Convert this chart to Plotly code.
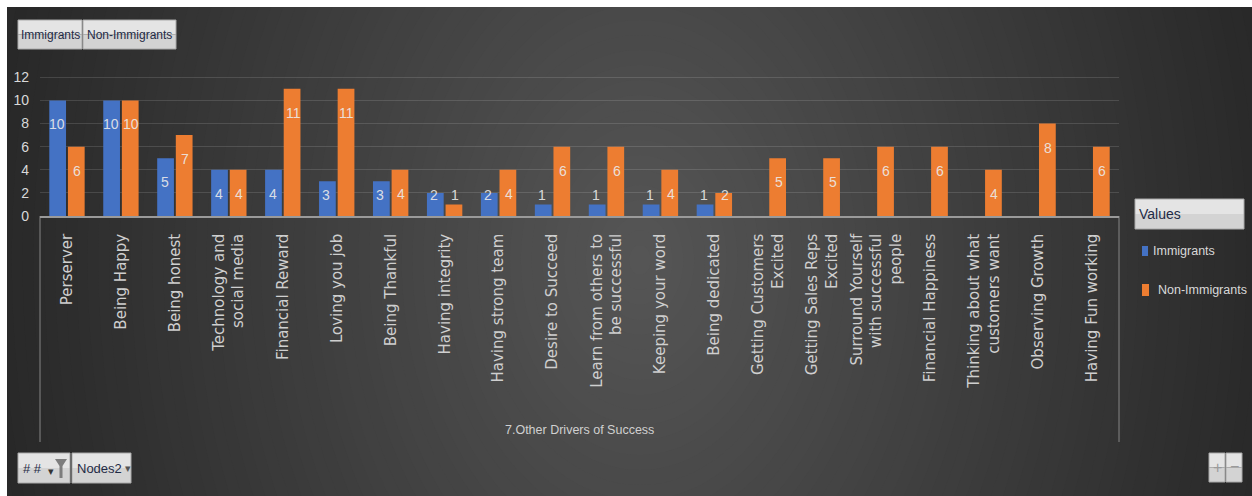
import plotly.graph_objects as go

W, H = 1252, 496

# ---- data -------------------------------------------------------------
categories = [
    "Perserver", "Being Happy", "Being honest", "Technology and social media",
    "Financial Reward", "Loving you job", "Being Thankful", "Having integrity",
    "Having strong team", "Desire to Succeed", "Learn from others to be successful",
    "Keeping your word", "Being dedicated", "Getting Customers Excited",
    "Getting Sales Reps Excited", "Surround Yourself with successful people",
    "Financial Happiness", "Thinking about what customers want",
    "Observing Growth", "Having Fun working",
]
tick_labels = [
    "Perserver", "Being Happy", "Being honest", "Technology and<br>social media",
    "Financial Reward", "Loving you job", "Being Thankful", "Having integrity",
    "Having strong team", "Desire to Succeed", "Learn from others to<br>be successful",
    "Keeping your word", "Being dedicated", "Getting Customers<br>Excited",
    "Getting Sales Reps<br>Excited", "Surround Yourself<br>with successful<br>people",
    "Financial Happiness", "Thinking about what<br>customers want",
    "Observing Growth", "Having Fun working",
]
immigrants = [10, 10, 5, 4, 4, 3, 3, 2, 2, 1, 1, 1, 1,
              None, None, None, None, None, None, None]
non_immigrants = [6, 10, 7, 4, 11, 11, 4, 1, 4, 6, 6, 4, 2,
                  5, 5, 6, 6, 4, 8, 6]
y_ticks = [0, 2, 4, 6, 8, 10, 12]

series_names = ["Immigrants", "Non-Immigrants"]
BLUE = "#4472C4"
ORANGE = "#ED7D31"

SANS = "Liberation Sans, Arial, sans-serif"
WIDE = "DejaVu Sans, Verdana, sans-serif"


def px(x):
    return x / W


def py(y):
    return 1 - y / H


# plot frame in pixels
X0, X1 = 40, 1119
Y_ZERO = 216
UNIT = 11.56
Y_MAX = 12.15
Y_TOP = Y_ZERO - Y_MAX * UNIT

fig = go.Figure()
fig.add_trace(go.Bar(name=series_names[0], x=categories, y=immigrants,
                     marker=dict(color=BLUE, line=dict(width=0)),
                     showlegend=False, hoverinfo="x+y"))
fig.add_trace(go.Bar(name=series_names[1], x=categories, y=non_immigrants,
                     marker=dict(color=ORANGE, line=dict(width=0)),
                     showlegend=False, hoverinfo="x+y"))

shapes = []
annotations = []

# ---- background: soft radial glow ----------------------------------------
cx, cy, rx, ry = 640, 260, 650, 900
L_center, L_edge = 86, 40
N = 60
for i in range(N, 0, -1):
    d = i / N
    L = round(L_edge + (L_center - L_edge) * (1 - d))
    col = f"rgb({L},{L},{L})"
    shapes.append(dict(type="circle", xref="paper", yref="paper", layer="below",
                       x0=px(cx - d * rx), x1=px(cx + d * rx),
                       y0=py(cy + d * ry), y1=py(cy - d * ry),
                       fillcolor=col, line=dict(width=0)))

# white margin strips
shapes.append(dict(type="rect", xref="paper", yref="paper", layer="below",
                   x0=0, x1=1, y0=py(7), y1=1, fillcolor="white", line=dict(width=0)))
shapes.append(dict(type="rect", xref="paper", yref="paper", layer="below",
                   x0=0, x1=px(7), y0=0, y1=1, fillcolor="white", line=dict(width=0)))

# frame around category area
for xv in (X0, X1):
    shapes.append(dict(type="line", xref="paper", yref="paper", layer="below",
                       x0=px(xv), x1=px(xv), y0=py(Y_ZERO), y1=py(442),
                       line=dict(color="#858585", width=1)))


def button(x0, y0, x1, y1):
    mid = (y0 + y1) / 2
    shapes.append(dict(type="rect", xref="paper", yref="paper", layer="below",
                       x0=px(x0), x1=px(x1), y0=py(mid), y1=py(y0),
                       fillcolor="#e4e4e4", line=dict(width=0)))
    shapes.append(dict(type="rect", xref="paper", yref="paper", layer="below",
                       x0=px(x0), x1=px(x1), y0=py(y1), y1=py(mid),
                       fillcolor="#d3d3d3", line=dict(width=0)))
    shapes.append(dict(type="rect", xref="paper", yref="paper", layer="below",
                       x0=px(x0), x1=px(x1), y0=py(y1), y1=py(y0),
                       fillcolor="rgba(0,0,0,0)", line=dict(color="#a9a9a9", width=1)))


def label(x, y, text, color="#1f2b46", size=13, anchor="left", family=SANS):
    annotations.append(dict(xref="paper", yref="paper", x=px(x), y=py(y), text=text,
                            showarrow=False, xanchor=anchor, yanchor="middle",
                            font=dict(family=family, size=size, color=color)))


# field buttons at the top
button(18, 20, 82, 49)
label(50, 35, series_names[0], anchor="center", size=12)
button(83, 20, 176, 49)
label(129.5, 35, series_names[1], anchor="center", size=12)

# field buttons at the bottom
button(18, 453, 70, 483)
label(21, 468, "# #", size=13)
label(46, 471, "▾", color="#333333", size=11)
fx0, fx1, fyt = 55, 67, 459
shapes.append(dict(type="path", xref="paper", yref="paper", layer="below",
                   path=(f"M {px(fx0)},{py(fyt)} L {px(fx1)},{py(fyt)} "
                         f"L {px(62.5)},{py(466)} L {px(62.5)},{py(478)} "
                         f"L {px(59.5)},{py(478)} L {px(59.5)},{py(466)} Z"),
                   fillcolor="#7d7d7d", line=dict(width=0)))
button(72, 453, 131, 483)
label(75, 468, "Nodes2", size=13)
label(123, 468, "▾", color="#555555", size=11)

# zoom buttons bottom right
button(1209, 453, 1225, 482)
label(1217, 467, "+", color="#9a9a9a", size=16, anchor="center")
button(1226, 453, 1242, 482)
label(1234, 466, "−", color="#9a9a9a", size=16, anchor="center")

# legend panel
button(1135, 199, 1244, 229)
label(1137, 214, "Values", size=14)
shapes.append(dict(type="rect", xref="paper", yref="paper", layer="below",
                   x0=px(1142), x1=px(1148), y0=py(256), y1=py(246),
                   fillcolor=BLUE, line=dict(width=0)))
label(1151, 251, series_names[0], color="#d9d9d9", size=12.5)
shapes.append(dict(type="rect", xref="paper", yref="paper", layer="below",
                   x0=px(1142), x1=px(1149), y0=py(296), y1=py(284),
                   fillcolor=ORANGE, line=dict(width=0)))
label(1156, 290, series_names[1], color="#d9d9d9", size=12.5)

# axis title
label((X0 + X1) / 2, 430, "7.Other Drivers of Success", color="#d0d0d0",
      size=12.5, anchor="center")

# value labels near the top of each bar
LABEL_DROP = 24 / UNIT
LABEL_FLOOR = 1.8
for values, shift in ((immigrants, -10.25), (non_immigrants, 10.25)):
    for cat, v in zip(categories, values):
        if v is None:
            continue
        annotations.append(dict(xref="x", yref="y", x=cat,
                                y=max(v - LABEL_DROP, LABEL_FLOOR), xshift=shift,
                                text=str(v), showarrow=False,
                                xanchor="center", yanchor="middle",
                                font=dict(family=SANS, size=14,
                                          color="rgba(235,235,235,0.9)")))

fig.update_layout(
    template="none",
    width=W, height=H, autosize=False,
    margin=dict(l=0, r=0, t=0, b=0, pad=0),
    paper_bgcolor="#292929", plot_bgcolor="rgba(0,0,0,0)",
    barmode="group", bargap=0.31, bargroupgap=0.1,
    shapes=shapes, annotations=annotations,
    showlegend=False,
    xaxis=dict(domain=[px(X0), px(X1)], type="category", automargin=False,
               tickmode="array", tickvals=categories, ticktext=tick_labels,
               tickangle=-90, ticks="", ticklabelstandoff=10,
               tickfont=dict(family=WIDE, size=15, color="#cfcfcf"),
               showline=True, linecolor="#9a9a9a", linewidth=1.5,
               showgrid=False, zeroline=False, fixedrange=True),
    yaxis=dict(domain=[py(Y_ZERO), py(Y_TOP)], range=[0, Y_MAX], automargin=False,
               tickmode="array", tickvals=y_ticks, ticks="",
               ticklabelstandoff=10,
               tickfont=dict(family=SANS, size=14, color="#d9d9d9"),
               showgrid=True, gridcolor="rgba(255,255,255,0.13)", gridwidth=1,
               zeroline=False, showline=False, fixedrange=True),
)

fig.write_html(
    "out.html",
    config={"displayModeBar": False},
    post_script="document.body.style.margin='0';document.body.style.overflow='hidden';",
)
